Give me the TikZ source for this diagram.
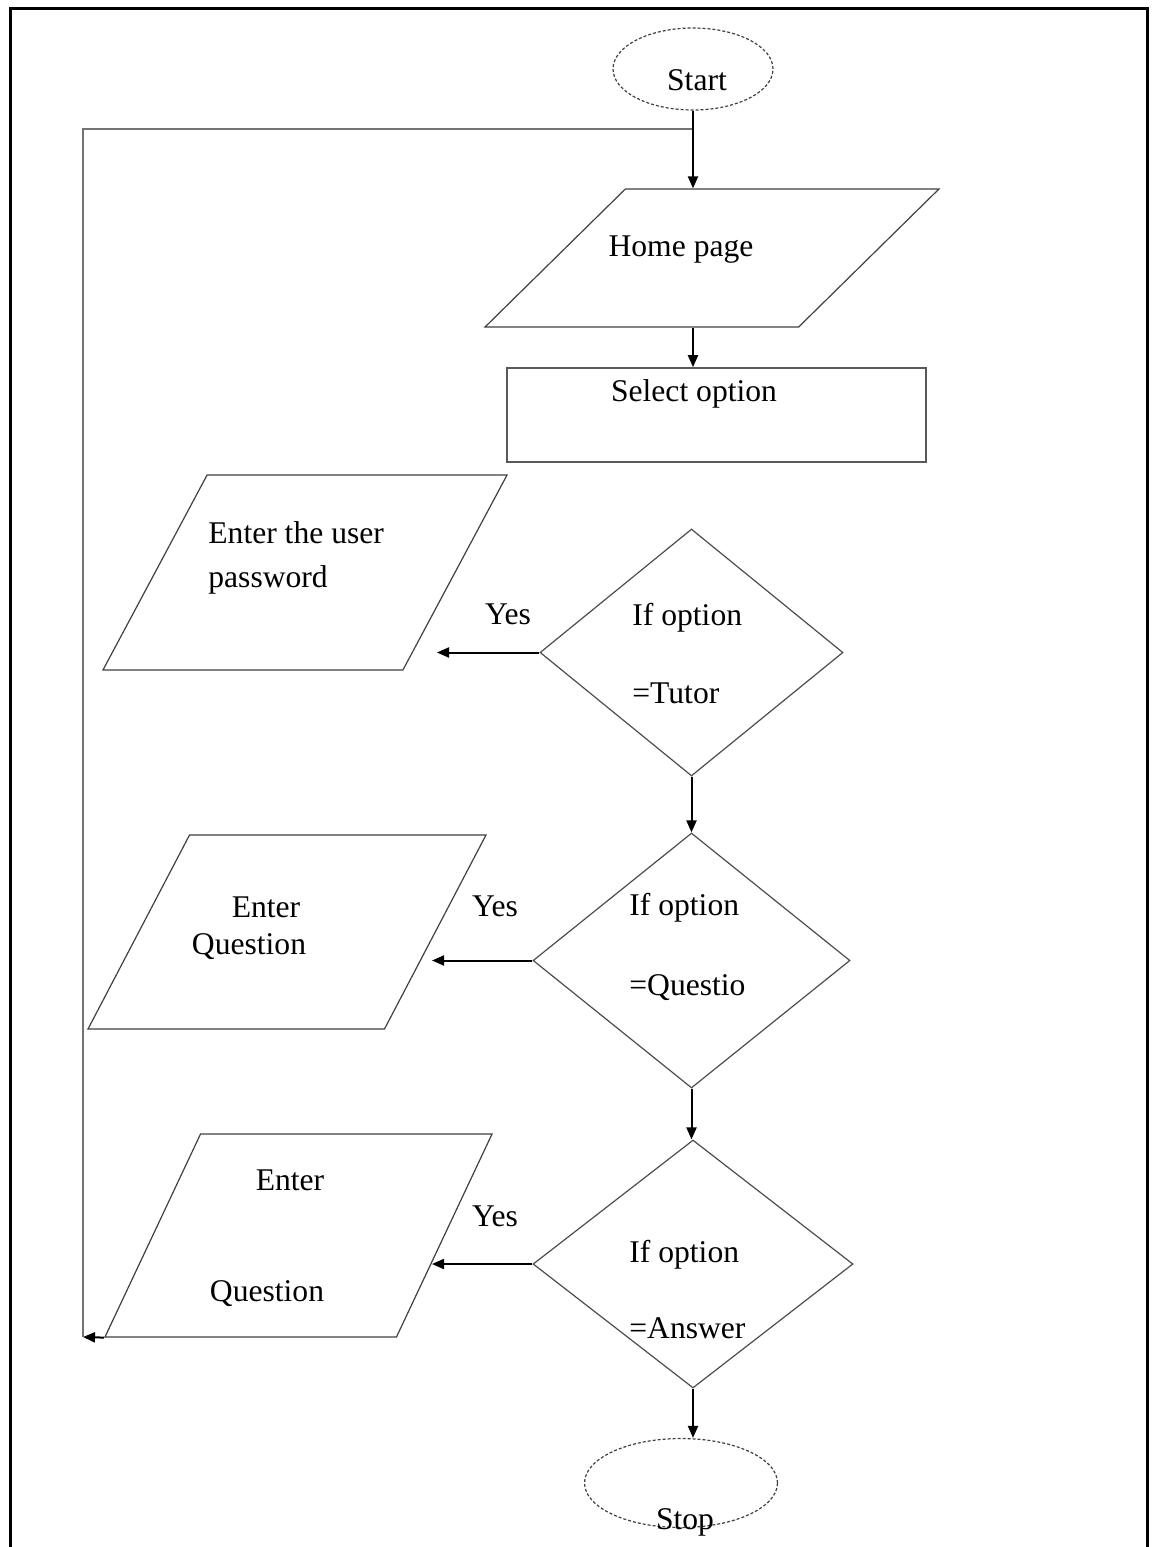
\documentclass[tikz,border=0pt]{standalone}
\usepackage{fontspec}
\setmainfont{Liberation Serif}
\usetikzlibrary{shapes.geometric,arrows.meta}

\begin{document}
\begin{tikzpicture}[x=0.5pt,y=-0.5pt,
  every node/.style={font=\fontsize{15.8}{19}\selectfont},
  termbox/.style={ellipse,draw=black!75,line width=0.6pt,dash pattern=on 1.5pt off 1pt,inner sep=0pt},
  iobox/.style={trapezium,trapezium stretches=true,draw=black!75,line width=0.6pt,inner sep=1pt},
  procbox/.style={rectangle,draw=black!65,line width=0.8pt,inner sep=0pt},
  decbox/.style={diamond,draw=black!70,line width=0.6pt,inner sep=0pt},
  txt/.style={inner sep=0pt},
  arr/.style={-{Triangle[length=6pt,width=5pt]},line width=1pt},
  backline/.style={draw=black!55,line width=1pt}]
 \useasboundingbox (0,0) rectangle (1162,1547);
 \draw[line width=1.5pt] (10,1547) -- (10,8) -- (1147,8) -- (1147,1547);

 \node[termbox,minimum width=80pt,minimum height=41pt] (start) at (693,69) {};
 \node[iobox,trapezium left angle=51,trapezium right angle=129,minimum width=227pt,minimum height=69pt] (home) at (712,258) {};
 \node[procbox,minimum width=209.5pt,minimum height=47pt] (select) at (716.5,415) {};
 \node[iobox,trapezium left angle=62,trapezium right angle=118,minimum width=202pt,minimum height=97.5pt] (tutorin) at (305,572.5) {};
 \node[decbox,minimum width=151.5pt,minimum height=123.5pt] (iftutor) at (691.5,652.5) {};
 \node[iobox,trapezium left angle=62.5,trapezium right angle=117.5,minimum width=199pt,minimum height=97pt] (questin) at (287,932) {};
 \node[decbox,minimum width=158.5pt,minimum height=127.5pt] (ifquest) at (691.5,960.5) {};
 \node[iobox,trapezium left angle=64,trapezium right angle=116,minimum width=193.5pt,minimum height=101.5pt] (answin) at (298.5,1235.5) {};
 \node[decbox,minimum width=160pt,minimum height=124pt] (ifanswer) at (693,1264) {};
 \node[termbox,minimum width=96.5pt,minimum height=44.5pt] (stop) at (681,1483) {};

 \node[txt] (starttxt) at (697,80) {Start};
 \node[txt] (hometxt) at (681,250) {Home page};
 \node[txt] (selecttxt) at (694,394) {Select option};
 \node[txt,anchor=west,align=left,font=\fontsize{15.8}{22}\selectfont] (tutortxt) at (208,558) {Enter the user\\password};
 \node[txt,anchor=west,align=left,font=\fontsize{15.8}{39}\selectfont] (iftutortxt) at (632,654) {If option\\=Tutor};
 \node[txt] (questtxta) at (266,907) {Enter};
 \node[txt] (questtxtb) at (249,947) {Question};
 \node[txt,anchor=west,align=left,font=\fontsize{15.8}{40}\selectfont] (ifquesttxt) at (629,947) {If option\\=Questio};
 \node[txt] (answtxta) at (290,1180) {Enter};
 \node[txt] (answtxtb) at (267,1294) {Question};
 \node[txt,anchor=west,align=left,font=\fontsize{15.8}{38}\selectfont] (ifanswertxt) at (629,1290) {If option\\=Answer};
 \node[txt] (stoptxt) at (685,1522) {Stop};
 \node[txt] (yestutor) at (508,614) {Yes};
 \node[txt] (yesquest) at (495,906) {Yes};
 \node[txt] (yesanswer) at (495,1216) {Yes};

 \coordinate (tutorend) at (437,651);
 \coordinate (questend) at (432,962);
 \coordinate (answend) at (432,1267);
 \coordinate (back) at (83,1337);
 \coordinate (join) at (692,129);

 \draw[arr] (start.south) -- (start.south |- home.north);
 \draw[arr] (home.south -| start) -- (select.north -| start);
 \draw[arr] (iftutor.south) -- (iftutor.south |- ifquest.north);
 \draw[arr] (ifquest.south) -- (ifquest.south |- ifanswer.north);
 \draw[arr] (ifanswer.south) -- (ifanswer.south |- stop.north);
 \draw[arr] (iftutor.west) -- (iftutor.west -| tutorend);
 \draw[arr] (ifquest.west) -- (ifquest.west -| questend);
 \draw[arr] (ifanswer.west) -- (ifanswer.west -| answend);
 \draw[arr] (answin.bottom left corner) -- (back);
 \draw[backline] (back) |- (join);
\end{tikzpicture}
\end{document}
